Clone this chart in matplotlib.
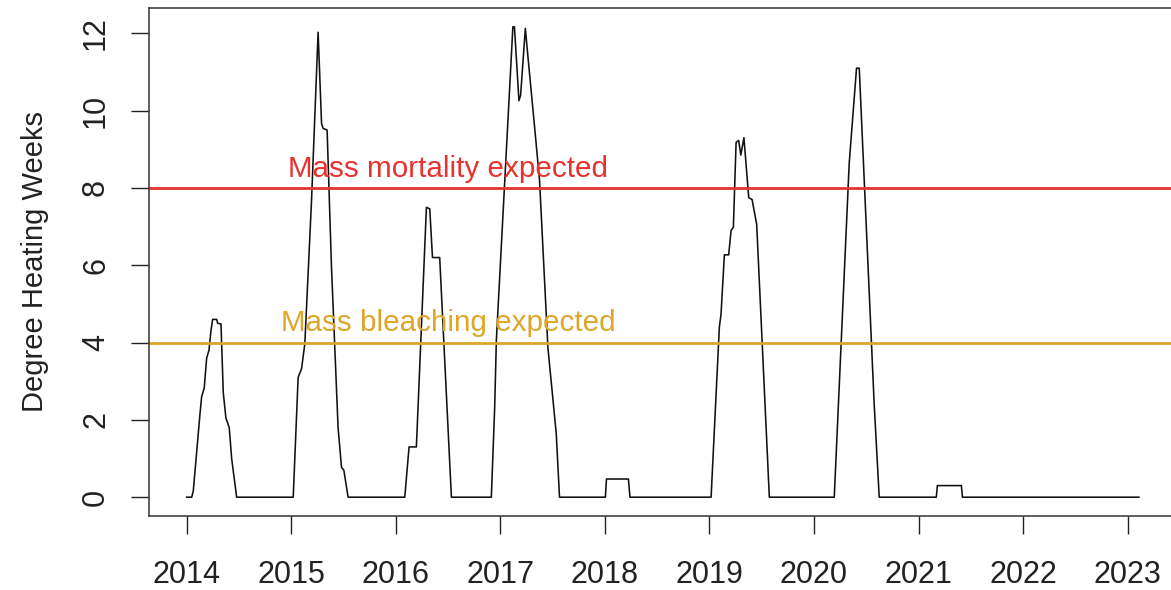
import numpy as np
import matplotlib
matplotlib.use('Agg')
import matplotlib.pyplot as plt

plt.rcParams['font.family'] = ['Liberation Sans', 'DejaVu Sans']

# Degree Heating Weeks (decimal year, DHW)
year = [2014.000, 2014.048, 2014.063, 2014.127, 2014.143, 2014.168, 2014.191, 2014.213,
        2014.232, 2014.248, 2014.287, 2014.296, 2014.328, 2014.334, 2014.350, 2014.375,
        2014.407, 2014.430, 2014.478,
        2015.019, 2015.066, 2015.099, 2015.130, 2015.194, 2015.257, 2015.290, 2015.305,
        2015.343, 2015.385, 2015.448, 2015.481, 2015.503, 2015.544,
        2016.086, 2016.127, 2016.197, 2016.293, 2016.325, 2016.351, 2016.420, 2016.532,
        2016.914, 2016.946, 2016.962, 2017.120, 2017.135, 2017.178, 2017.194, 2017.239,
        2017.264, 2017.328, 2017.375, 2017.455, 2017.535, 2017.566,
        2018.005, 2018.015, 2018.225, 2018.240,
        2019.016, 2019.095, 2019.111, 2019.143, 2019.184, 2019.207, 2019.229, 2019.255,
        2019.280, 2019.300, 2019.330, 2019.376, 2019.408, 2019.452, 2019.573,
        2020.194, 2020.337, 2020.407, 2020.433, 2020.576, 2020.624,
        2021.170, 2021.180, 2021.410, 2021.420, 2023.108]
dhw = [0, 0, 0.16, 2.15, 2.6, 2.83, 3.6, 3.8,
       4.3, 4.6, 4.6, 4.5, 4.48, 4.0, 2.7, 2.05,
       1.8, 1.0, 0,
       0, 3.1, 3.33, 3.97, 7.67, 12.03, 9.67, 9.54,
       9.5, 5.96, 1.8, 0.77, 0.7, 0,
       0, 1.3, 1.3, 7.5, 7.46, 6.2, 6.2, 0,
       0, 2.33, 4.06, 12.17, 12.17, 10.26, 10.4, 12.13,
       11.4, 9.57, 8.2, 3.87, 1.64, 0,
       0, 0.47, 0.47, 0,
       0, 4.4, 4.74, 6.27, 6.27, 6.9, 6.98, 9.18,
       9.23, 8.85, 9.3, 7.75, 7.7, 7.06, 0,
       0, 8.64, 11.1, 11.1, 2.4, 0,
       0, 0.3, 0.3, 0, 0]

thresholds = [8, 4]
threshold_labels = ['Mass mortality expected', 'Mass bleaching expected']
threshold_colors = ['#e8322f', '#dea628']
year_ticks = list(range(2014, 2024))
dhw_ticks = [0, 2, 4, 6, 8, 10, 12]

W, H = 1171, 590
fig = plt.figure(figsize=(W / 100, H / 100), dpi=100)
# axes box in pixels: left 148.6, right ~1177 (off the figure), top 8, bottom 516
ax = fig.add_axes([148.6 / W, (H - 516) / H, (1177 - 148.6) / W, (516 - 8) / H])

ax.plot(year, dhw, color='#111111', linewidth=1.15)
for yv, lab, col in zip(thresholds, threshold_labels, threshold_colors):
    ax.axhline(yv, color=col, linewidth=2.0)
    ax.text(2016.5, yv + 0.5, lab, color=col, fontsize=21.3, ha='center', va='center')

# R-like 4% padding
xr = max(year) - min(year)
yr = max(dhw) - min(dhw)
ax.set_xlim(min(year) - 0.04 * xr, max(year) + 0.04 * xr)
ax.set_ylim(min(dhw) - 0.04 * yr, max(dhw) + 0.04 * yr)

ax.set_xticks(year_ticks)
ax.set_xticklabels([str(y) for y in year_ticks])
ax.set_yticks(dhw_ticks)
ax.set_yticklabels([str(v) for v in dhw_ticks], rotation=90, va='center')
ax.tick_params(axis='both', direction='out', length=13, width=1.0, labelsize=22,
               colors='#222222')
ax.tick_params(axis='x', pad=19)
ax.tick_params(axis='y', pad=14)
ax.set_ylabel('Degree Heating Weeks', fontsize=21, labelpad=23, color='#222222')
for s in ax.spines.values():
    s.set_linewidth(1.1)
    s.set_color('#333333')

fig.savefig('out.png', dpi=100)
